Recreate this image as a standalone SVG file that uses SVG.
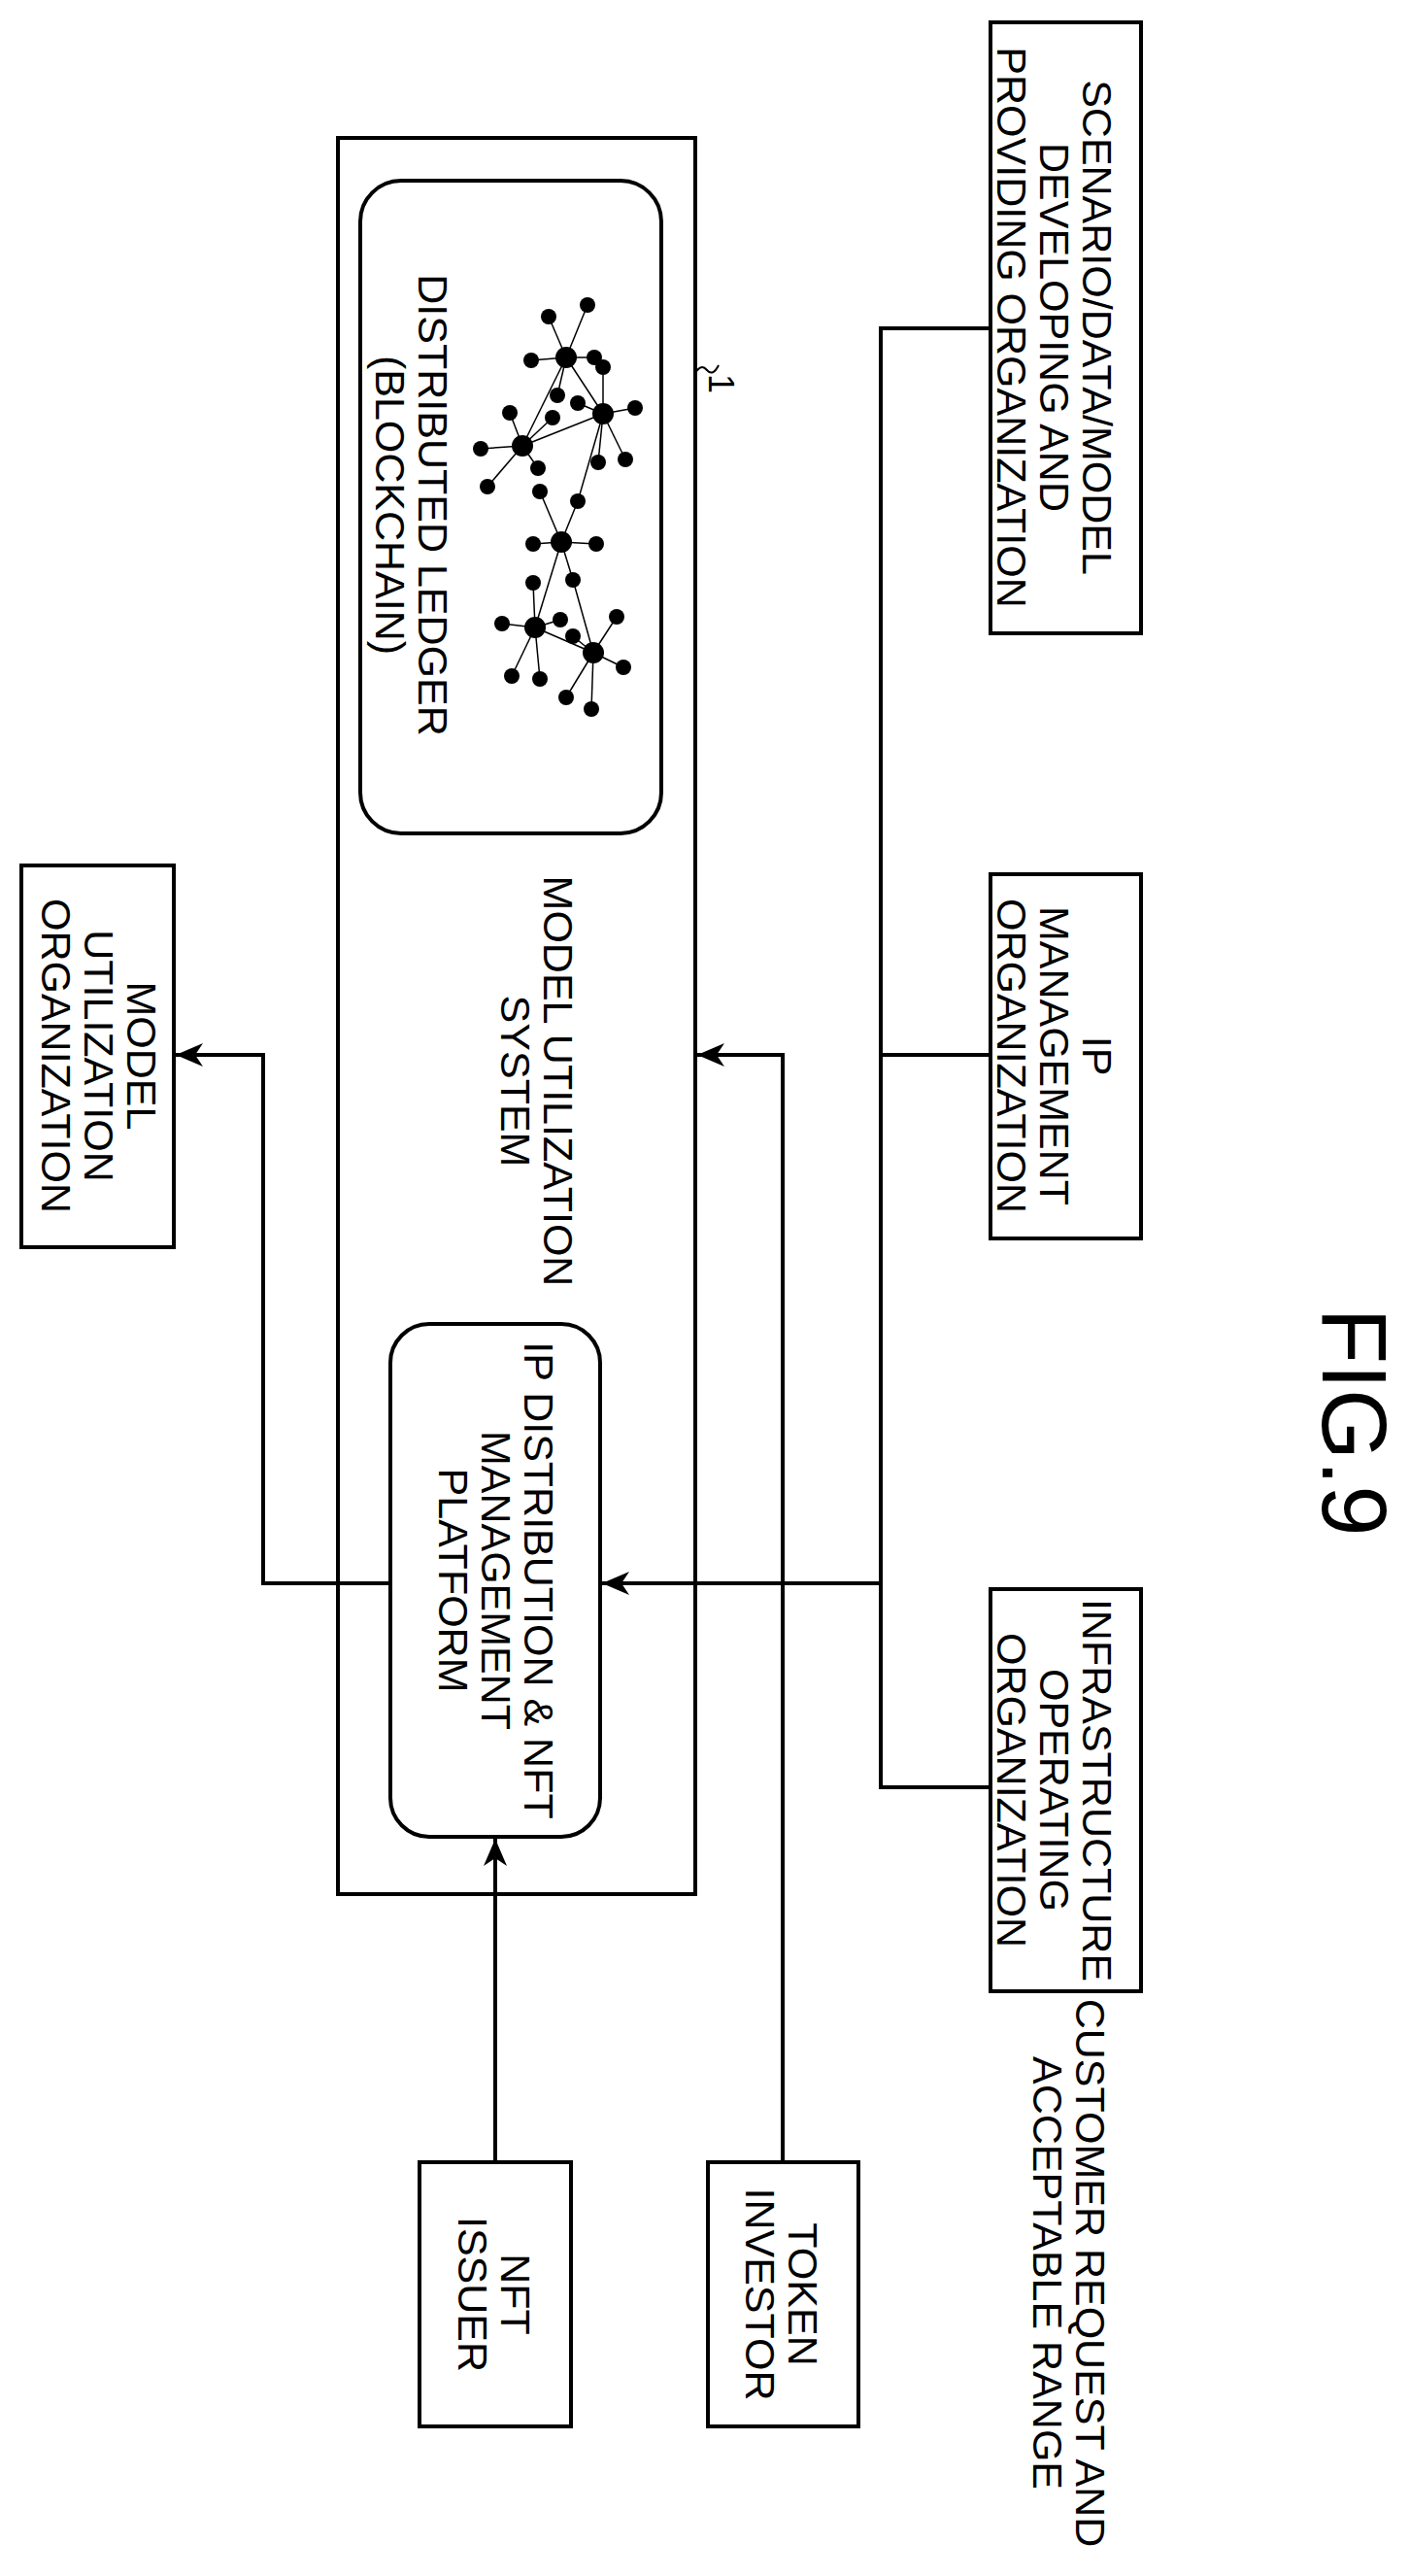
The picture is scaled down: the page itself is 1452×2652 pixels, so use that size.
<svg xmlns="http://www.w3.org/2000/svg" width="1452" height="2652" viewBox="0 0 1452 2652">
<style>
.box{fill:none;stroke:#000;stroke-width:4}
.ln{fill:none;stroke:#000;stroke-width:4}
.t{font-family:"Liberation Sans",Arial,sans-serif;font-size:43px;fill:#000;text-anchor:middle}
.e{stroke:#000;stroke-width:1.5}
</style>
<defs>
<marker id="ah" markerUnits="userSpaceOnUse" markerWidth="30" markerHeight="24" refX="28" refY="12" orient="auto">
<path d="M0,0 L28,12 L0,24 L8,12 Z" fill="#000"/>
</marker>
</defs>
<g id="fig-label"><text class="t" style="font-size:94px" transform="translate(1362,1464) rotate(90)">FIG.9</text></g>
<g id="system">
<rect class="box" x="348" y="142" width="368" height="1808"/>
<text class="t" transform="translate(560,1113) rotate(90)"><tspan x="0" y="0">MODEL UTILIZATION</tspan><tspan x="0" y="44">SYSTEM</tspan></text>
<path class="ln" style="stroke-width:2" d="M716,384 q6,-10 12,-3 t12,-5"/>
<text class="t" style="font-size:36px" transform="translate(730,395) rotate(90)">1</text>
</g>
<g id="ledger">
<rect class="box" x="371" y="186" width="310" height="672" rx="42"/>
<text class="t" transform="translate(431,520) rotate(90)"><tspan x="0" y="0">DISTRIBUTED LEDGER</tspan><tspan x="0" y="44">(BLOCKCHAIN)</tspan></text>
<g class="e">
<line x1="583" y1="368" x2="605" y2="314"/><line x1="583" y1="368" x2="565" y2="326"/><line x1="583" y1="368" x2="547" y2="371"/><line x1="583" y1="368" x2="612" y2="368"/><line x1="583" y1="368" x2="574" y2="407"/>
<line x1="583" y1="368" x2="621" y2="426"/><line x1="583" y1="368" x2="538" y2="459"/><line x1="538" y1="459" x2="621" y2="426"/>
<line x1="621" y1="426" x2="621" y2="378"/><line x1="621" y1="426" x2="595" y2="415"/><line x1="621" y1="426" x2="654" y2="420"/><line x1="621" y1="426" x2="616" y2="476"/><line x1="621" y1="426" x2="644" y2="473"/><line x1="621" y1="426" x2="595" y2="516"/>
<line x1="538" y1="459" x2="525" y2="425"/><line x1="538" y1="459" x2="569" y2="430"/><line x1="538" y1="459" x2="495" y2="462"/><line x1="538" y1="459" x2="554" y2="482"/><line x1="538" y1="459" x2="502" y2="501"/>
<line x1="578" y1="558" x2="556" y2="506"/><line x1="578" y1="558" x2="595" y2="516"/><line x1="578" y1="558" x2="549" y2="560"/><line x1="578" y1="558" x2="614" y2="560"/><line x1="578" y1="558" x2="590" y2="597"/>
<line x1="578" y1="558" x2="551" y2="646"/><line x1="590" y1="597" x2="611" y2="672"/><line x1="551" y1="646" x2="611" y2="672"/>
<line x1="551" y1="646" x2="549" y2="600"/><line x1="551" y1="646" x2="517" y2="642"/><line x1="551" y1="646" x2="577" y2="638"/><line x1="551" y1="646" x2="527" y2="696"/><line x1="551" y1="646" x2="556" y2="699"/>
<line x1="611" y1="672" x2="590" y2="655"/><line x1="611" y1="672" x2="635" y2="635"/><line x1="611" y1="672" x2="642" y2="687"/><line x1="611" y1="672" x2="583" y2="718"/><line x1="611" y1="672" x2="609" y2="730"/>
</g>
<g fill="#000">
<circle cx="583" cy="368" r="11"/><circle cx="621" cy="426" r="11"/><circle cx="538" cy="459" r="11"/><circle cx="578" cy="558" r="11"/><circle cx="551" cy="646" r="11"/><circle cx="611" cy="672" r="11"/>
<circle cx="605" cy="314" r="8"/><circle cx="565" cy="326" r="8"/><circle cx="547" cy="371" r="8"/><circle cx="612" cy="368" r="8"/><circle cx="621" cy="378" r="8"/><circle cx="574" cy="407" r="8"/><circle cx="595" cy="415" r="8"/><circle cx="654" cy="420" r="8"/><circle cx="525" cy="425" r="8"/><circle cx="569" cy="430" r="8"/><circle cx="495" cy="462" r="8"/><circle cx="554" cy="482" r="8"/><circle cx="502" cy="501" r="8"/><circle cx="616" cy="476" r="8"/><circle cx="644" cy="473" r="8"/><circle cx="556" cy="506" r="8"/><circle cx="595" cy="516" r="8"/><circle cx="549" cy="560" r="8"/><circle cx="614" cy="560" r="8"/><circle cx="549" cy="600" r="8"/><circle cx="590" cy="597" r="8"/><circle cx="517" cy="642" r="8"/><circle cx="577" cy="638" r="8"/><circle cx="590" cy="655" r="8"/><circle cx="635" cy="635" r="8"/><circle cx="642" cy="687" r="8"/><circle cx="527" cy="696" r="8"/><circle cx="556" cy="699" r="8"/><circle cx="583" cy="718" r="8"/><circle cx="609" cy="730" r="8"/>
</g>
</g>
<g id="platform">
<rect class="box" x="402" y="1363" width="216" height="528" rx="40"/>
<text class="t" transform="translate(540,1627) rotate(90)"><tspan x="0" y="0">IP DISTRIBUTION &amp; NFT</tspan><tspan x="0" y="44">MANAGEMENT</tspan><tspan x="0" y="88">PLATFORM</tspan></text>
</g>
<g id="scenario">
<rect class="box" x="1020" y="23" width="155" height="629"/>
<text class="t" transform="translate(1115,337) rotate(90)"><tspan x="0" y="0">SCENARIO/DATA/MODEL</tspan><tspan x="0" y="44">DEVELOPING AND</tspan><tspan x="0" y="88">PROVIDING ORGANIZATION</tspan></text>
</g>
<g id="ipmgmt">
<rect class="box" x="1020" y="900" width="155" height="375"/>
<text class="t" transform="translate(1115,1087) rotate(90)"><tspan x="0" y="0">IP</tspan><tspan x="0" y="44">MANAGEMENT</tspan><tspan x="0" y="88">ORGANIZATION</tspan></text>
</g>
<g id="infra">
<rect class="box" x="1020" y="1636" width="155" height="414"/>
<text class="t" transform="translate(1115,1843) rotate(90)"><tspan x="0" y="0">INFRASTRUCTURE</tspan><tspan x="0" y="44">OPERATING</tspan><tspan x="0" y="88">ORGANIZATION</tspan></text>
</g>
<g id="customer">
<text class="t" transform="translate(1108,2340) rotate(90)"><tspan x="0" y="0">CUSTOMER REQUEST AND</tspan><tspan x="0" y="44">ACCEPTABLE RANGE</tspan></text>
</g>
<g id="modeluse">
<rect class="box" x="22" y="891" width="157" height="393"/>
<text class="t" transform="translate(131,1087) rotate(90)"><tspan x="0" y="0">MODEL</tspan><tspan x="0" y="44">UTILIZATION</tspan><tspan x="0" y="88">ORGANIZATION</tspan></text>
</g>
<g id="token">
<rect class="box" x="729" y="2226" width="155" height="272"/>
<text class="t" transform="translate(812,2362) rotate(90)"><tspan x="0" y="0">TOKEN</tspan><tspan x="0" y="44">INVESTOR</tspan></text>
</g>
<g id="nft">
<rect class="box" x="432" y="2226" width="156" height="272"/>
<text class="t" transform="translate(516,2362) rotate(90)"><tspan x="0" y="0">NFT</tspan><tspan x="0" y="44">ISSUER</tspan></text>
</g>
<g id="connectors">
<path class="ln" d="M1020,338 H907 V1840 H1020"/>
<path class="ln" d="M907,1086 H1020"/>
<path class="ln" d="M907,1630 H620" marker-end="url(#ah)"/>
<path class="ln" d="M806,2226 V1086 H718" marker-end="url(#ah)"/>
<path class="ln" d="M510,2226 V1893" marker-end="url(#ah)"/>
<path class="ln" d="M402,1630 H271 V1086 H181" marker-end="url(#ah)"/>
</g>
</svg>
